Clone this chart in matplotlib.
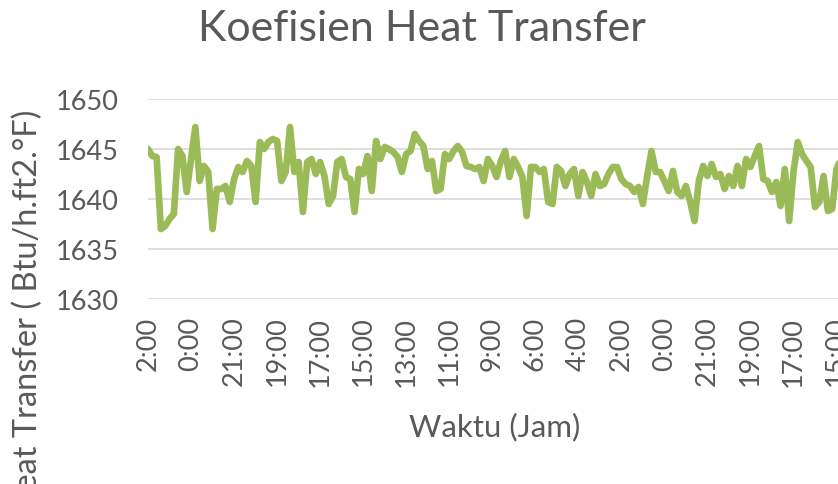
import matplotlib
matplotlib.use("Agg")
import matplotlib.pyplot as plt

# Koefisien heat transfer (Btu/h.ft2.°F)
htc = [
    1645.0, 1644.3, 1644.2, 1637.0, 1637.3, 1638.0, 1638.5, 1645.0, 1644.3, 1640.7,
    1644.0, 1647.2, 1641.8, 1643.3, 1642.7, 1637.0, 1641.0, 1641.0, 1641.3, 1639.7,
    1642.0, 1643.2, 1642.7, 1643.8, 1643.3, 1639.7, 1645.7, 1645.0, 1645.7, 1646.0,
    1645.8, 1641.8, 1642.7, 1647.2, 1642.7, 1643.7, 1638.7, 1643.7, 1644.0, 1642.5,
    1643.7, 1642.3, 1639.5, 1640.3, 1643.7, 1644.0, 1642.2, 1642.0, 1638.7, 1643.0,
    1642.5, 1644.3, 1640.8, 1645.8, 1644.0, 1645.2, 1645.0, 1644.7, 1644.2, 1642.7,
    1644.5, 1644.8, 1646.5, 1645.8, 1645.3, 1643.0, 1643.8, 1640.8, 1641.0, 1644.5,
    1644.0, 1644.8, 1645.3, 1644.7, 1643.3, 1643.2, 1643.0, 1643.2, 1641.8, 1644.0,
    1643.3, 1642.2, 1643.8, 1644.8, 1642.2, 1644.0, 1643.2, 1642.2, 1638.3, 1643.2,
    1643.2, 1642.7, 1643.0, 1639.7, 1639.5, 1643.2, 1642.8, 1641.3, 1642.5, 1643.0,
    1640.3, 1642.7, 1641.7, 1640.3, 1642.5, 1641.3, 1641.5, 1642.5, 1643.2, 1643.2,
    1642.0, 1641.5, 1641.3, 1640.7, 1641.2, 1639.5, 1642.3, 1644.8, 1642.7, 1642.7,
    1641.8, 1640.8, 1642.8, 1640.7, 1640.3, 1641.3, 1639.7, 1637.8, 1641.8, 1643.3,
    1642.3, 1643.5, 1642.2, 1642.5, 1641.0, 1642.3, 1641.3, 1643.3, 1641.3, 1644.0,
    1643.2, 1644.3, 1645.3, 1642.0, 1641.8, 1640.7, 1641.7, 1639.3, 1643.0, 1637.8,
    1642.7, 1645.7, 1644.5, 1643.8, 1643.2, 1639.2, 1639.7, 1642.3, 1638.8, 1639.0,
    1643.0, 1644.0,
]
time_labels = ["2:00", "0:00", "21:00", "19:00", "17:00", "15:00", "13:00", "11:00",
               "9:00", "6:00", "4:00", "2:00", "0:00", "21:00", "19:00", "17:00",
               "15:00"]
label_step = 10
y_ticks = [1630, 1635, 1640, 1645, 1650]

txt = "#595959"
fam = ["Lato", "DejaVu Sans"]

fig = plt.figure(figsize=(8.38, 4.85), dpi=100)
# plot area runs past the right edge, as in the cropped reference
ax = fig.add_axes([148 / 838, 185 / 485, 710 / 838, 200 / 485])

ax.plot(range(len(htc)), htc, color="#9bbb59", linewidth=4.8,
        solid_joinstyle="round", solid_capstyle="round")

ax.set_xlim(0, 165)
ax.set_ylim(1630, 1650)
ax.set_yticks(y_ticks)
ax.set_yticklabels([str(v) for v in y_ticks], fontsize=19.5, color=txt, family=fam)
ax.set_xticks(range(0, len(time_labels) * label_step, label_step))
ax.set_xticklabels(time_labels, rotation=90, fontsize=19.5, color=txt, family=fam)
ax.tick_params(axis="y", length=0, pad=21)
ax.tick_params(axis="x", length=0, pad=12)

ax.grid(axis="y", color="#d9d9d9", linewidth=1.2)
ax.set_axisbelow(True)
for s in ax.spines.values():
    s.set_visible(False)

fig.text(422 / 838, 1 - 29 / 485, "Koefisien Heat Transfer", ha="center", va="center",
         fontsize=31, color=txt, family=fam)
fig.text(495 / 838, 1 - 427 / 485, "Waktu (Jam)", ha="center", va="center",
         fontsize=22.5, color=txt, family=fam)
fig.text(28 / 838, 1 - 110 / 485, "Koefisien Heat Transfer ( Btu/h.ft2.°F)",
         rotation=90, ha="center", va="top", fontsize=23.5, color=txt, family=fam)

fig.savefig("out.png", dpi=100)
